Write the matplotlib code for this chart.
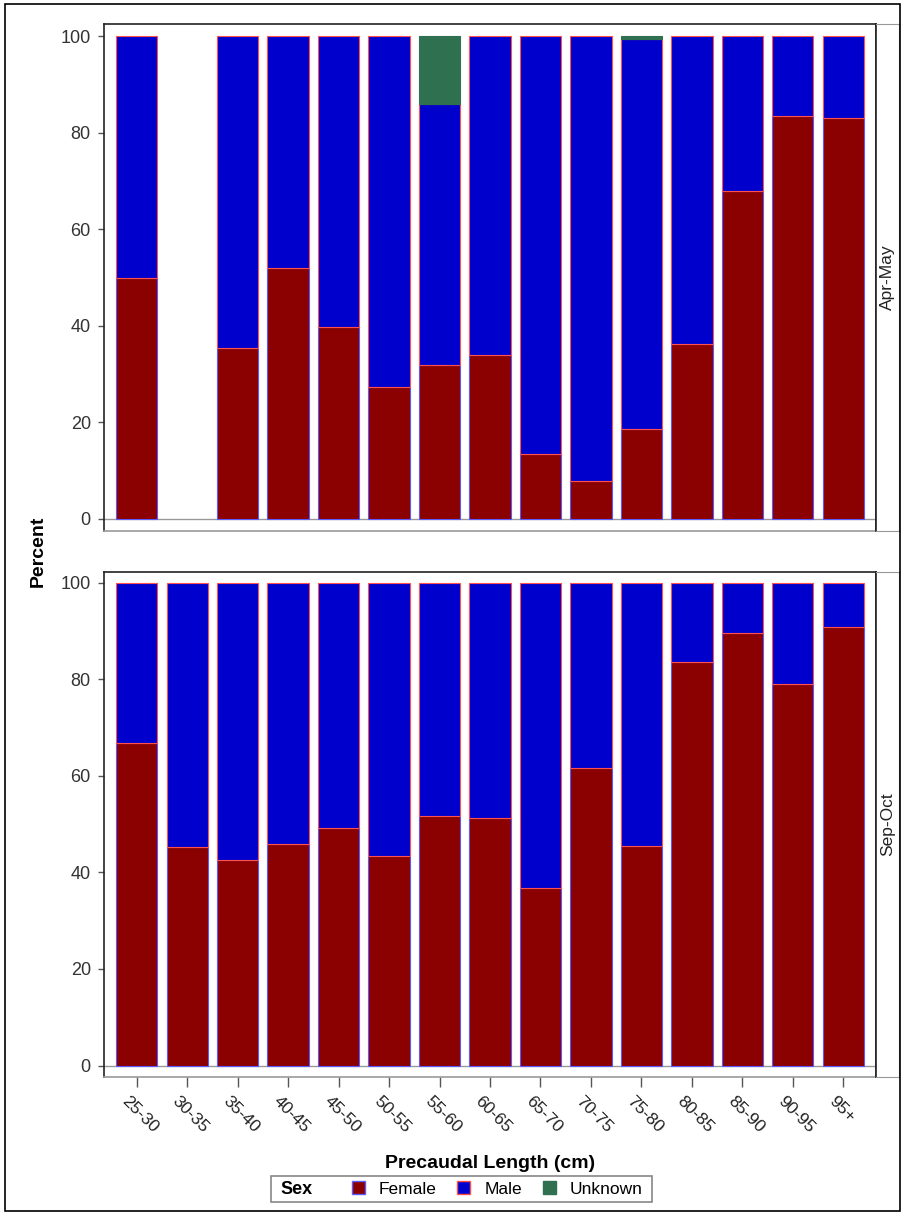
import numpy as np
import matplotlib
matplotlib.use("Agg")
import matplotlib.pyplot as plt
import matplotlib.transforms as mtransforms
from matplotlib.patches import Patch, Rectangle

plt.rcParams["font.family"] = ["Liberation Sans", "DejaVu Sans"]

categories = ["25-30", "30-35", "35-40", "40-45", "45-50", "50-55", "55-60", "60-65",
              "65-70", "70-75", "75-80", "80-85", "85-90", "90-95", "95+"]
panels = ["Apr-May", "Sep-Oct"]

# Apr-May (30-35 has no fish)
apr_female = [50.0, np.nan, 35.5, 52.0, 39.8, 27.4, 31.9, 34.0, 13.5, 7.8, 18.6, 36.2, 67.9, 83.5, 83.1]
apr_male = [50.0, np.nan, 64.5, 48.0, 60.2, 72.6, 54.0, 66.0, 86.5, 92.2, 80.8, 63.8, 32.1, 16.5, 16.9]
apr_unknown = [0.0, np.nan, 0.0, 0.0, 0.0, 0.0, 14.1, 0.0, 0.0, 0.0, 0.6, 0.0, 0.0, 0.0, 0.0]

# Sep-Oct
sep_female = [66.7, 45.3, 42.6, 45.9, 49.2, 43.4, 51.7, 51.3, 36.8, 61.6, 45.5, 83.5, 89.6, 79.1, 90.8]
sep_male = [33.3, 54.7, 57.4, 54.1, 50.8, 56.6, 48.3, 48.7, 63.2, 38.4, 54.5, 16.5, 10.4, 20.9, 9.2]
sep_unknown = [0.0] * 15

sexes = ["Female", "Male", "Unknown"]
fill_colors = {"Female": "#8b0000", "Male": "#0000cc", "Unknown": "#2e7050"}
edge_colors = {"Female": "#5a5aff", "Male": "#ff5050", "Unknown": "#2e7050"}

W, H = 906, 1216


def fx(px):
    return px / W


def fy(py):
    return 1 - py / H


def draw_panel(fig, top, bottom, ylim, series, strip_label, show_x):
    ax = fig.add_axes([fx(104), fy(bottom), fx(876) - fx(104), fy(top) - fy(bottom)])
    x = np.arange(len(categories))
    base = np.zeros(len(categories))
    for sex in sexes:
        vals = np.array(series[sex], dtype=float)
        ok = ~np.isnan(vals) & (vals > 0)
        ax.bar(x[ok], vals[ok], bottom=base[ok], width=0.82,
               color=fill_colors[sex], edgecolor=edge_colors[sex], linewidth=0.8, zorder=2)
        base = base + np.nan_to_num(vals)
    ax.axhline(0, color="#999999", linewidth=1, zorder=1)
    ax.set_xlim(-0.65, len(categories) - 0.35)
    ax.set_ylim(*ylim)
    ax.set_yticks([0, 20, 40, 60, 80, 100])
    ax.tick_params(axis="y", length=4.5, width=1, color="#555555", pad=5,
                   labelsize=13, labelcolor="#333333")
    if show_x:
        ax.set_xticks(x)
        ax.set_xticklabels(categories, rotation=-45, ha="left", va="top",
                           rotation_mode="anchor")
        ax.tick_params(axis="x", length=7.5, width=1, color="#555555", pad=4.5,
                       labelsize=12.5, labelcolor="#222222")
        shift = mtransforms.ScaledTranslation(-5 / 72, 0, fig.dpi_scale_trans)
        for lab in ax.get_xticklabels():
            lab.set_transform(lab.get_transform() + shift)
    else:
        ax.set_xticks([])
    for side in ["left", "top", "right"]:
        ax.spines[side].set_color("#222222")
        ax.spines[side].set_linewidth(1.2)
    ax.spines["bottom"].set_color("#999999")
    ax.spines["bottom"].set_linewidth(1.2)

    strip = fig.add_axes([fx(876), fy(bottom), fx(899) - fx(876), fy(top) - fy(bottom)])
    strip.set_xticks([])
    strip.set_yticks([])
    for side in ["top", "right", "bottom"]:
        strip.spines[side].set_color("#999999")
    strip.spines["left"].set_color("#222222")
    strip.spines["left"].set_linewidth(1.2)
    strip.text(0.5, 0.5, strip_label, rotation=90, ha="center", va="center",
               fontsize=12.5, color="#222222", transform=strip.transAxes)
    return ax


def main():
    fig = plt.figure(figsize=(W / 100, H / 100), dpi=100)

    # outer border
    fig.patches.append(Rectangle((fx(5), fy(1211)), fx(900) - fx(5), fy(4) - fy(1211),
                                 transform=fig.transFigure, fill=False,
                                 edgecolor="black", linewidth=1.2))

    draw_panel(fig, 24, 531, (-2.5, 102.5),
               {"Female": apr_female, "Male": apr_male, "Unknown": apr_unknown},
               panels[0], show_x=False)
    draw_panel(fig, 572, 1077, (-2.38, 102.2),
               {"Female": sep_female, "Male": sep_male, "Unknown": sep_unknown},
               panels[1], show_x=True)

    fig.text(fx(38), fy(551), "Percent", rotation=90, ha="center", va="center",
             fontsize=14, fontweight="bold", color="black")
    fig.text(fx(490), fy(1163), "Precaudal Length (cm)", ha="center", va="center",
             fontsize=14, fontweight="bold", color="black")

    # legend
    fig.patches.append(Rectangle((fx(271), fy(1202)), fx(652) - fx(271), fy(1176) - fy(1202),
                                 transform=fig.transFigure, fill=False,
                                 edgecolor="#888888", linewidth=1.2))
    fig.text(fx(280), fy(1189), "Sex", ha="left", va="center",
             fontsize=13, fontweight="bold", color="black")
    handles = [Patch(facecolor=fill_colors[s], edgecolor=edge_colors[s], linewidth=1)
               for s in sexes]
    fig.legend(handles, sexes, loc="center", bbox_to_anchor=(fx(497), fy(1189)),
               ncol=3, frameon=False, fontsize=12.5, handlelength=0.75,
               handleheight=0.75, handletextpad=0.8, columnspacing=1.2,
               borderpad=0, borderaxespad=0)

    fig.savefig("out.png", dpi=100)


if __name__ == "__main__":
    main()
